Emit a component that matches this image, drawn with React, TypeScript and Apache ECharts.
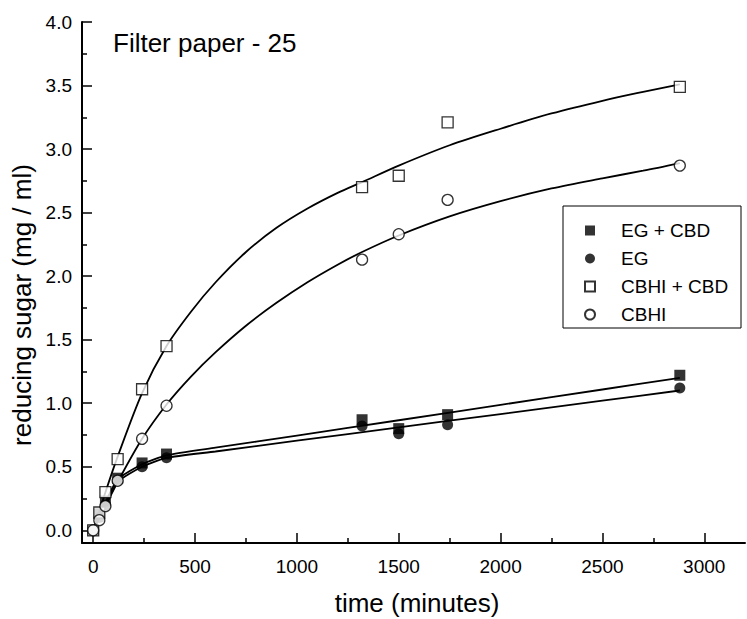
import React, { useEffect, useRef } from "react";
import * as echarts from "echarts";

// measured data points
const times = [0, 30, 60, 120, 240, 360, 1320, 1500, 1740, 2880];
const egCbd = [0, 0.13, 0.23, 0.41, 0.53, 0.6, 0.87, 0.8, 0.91, 1.22];
const eg = [0, 0.1, 0.2, 0.39, 0.5, 0.57, 0.82, 0.76, 0.83, 1.12];
const cbhiCbd = [0, 0.14, 0.3, 0.56, 1.11, 1.45, 2.7, 2.79, 3.21, 3.49];
const cbhi = [0, 0.08, 0.19, 0.39, 0.72, 0.98, 2.13, 2.33, 2.6, 2.87];

// fitted curves
const fitTimesA = [0, 60, 120, 240, 360, 480, 600, 750, 900, 1050, 1200, 1320, 1500, 1750, 2000, 2250, 2500, 2700, 2880];
const fitCbhiCbd = [0, 0.3, 0.58, 1.08, 1.45, 1.72, 1.95, 2.19, 2.38, 2.53, 2.655, 2.74, 2.87, 3.03, 3.16, 3.28, 3.38, 3.45, 3.51];
const fitCbhi = [0, 0.19, 0.38, 0.72, 0.99, 1.21, 1.4, 1.61, 1.79, 1.95, 2.09, 2.19, 2.32, 2.47, 2.59, 2.69, 2.77, 2.83, 2.89];
const fitTimesB = [0, 30, 60, 120, 240, 360, 600, 1000, 1500, 2000, 2500, 2880];
const fitEgCbd = [0, 0.12, 0.22, 0.4, 0.52, 0.59, 0.65, 0.745, 0.866, 0.987, 1.108, 1.2];
const fitEg = [0, 0.1, 0.2, 0.38, 0.5, 0.57, 0.62, 0.705, 0.81, 0.915, 1.02, 1.1];

// ticks
const xTicks = [0, 500, 1000, 1500, 2000, 2500, 3000];
const xMinor = [250, 750, 1250, 1750, 2250, 2750];
const yTicks = [0, 0.5, 1, 1.5, 2, 2.5, 3, 3.5, 4];
const yMinor = [0.25, 0.75, 1.25, 1.75, 2.25, 2.75, 3.25, 3.75];

const seriesNames = ["EG + CBD", "EG", "CBHI + CBD", "CBHI"];

const FONT = "'Liberation Sans', Arial, Helvetica, sans-serif";

const pairs = (xs: number[], ys: number[]) => xs.map((x, i) => [x, ys[i]]);

export default function App() {
  const ref = useRef<HTMLDivElement>(null);
  useEffect(() => {
    if (!ref.current) return;
    const chart = echarts.init(ref.current, undefined, { renderer: "svg" });
    const X_MIN = -55, X_MAX = 3200, Y_MIN = -0.1, Y_MAX = 4.0;
    const tickStyle = { color: "#000", width: 1.5 };
    const fitLine = (data: number[][], smooth: number) => ({
      type: "line",
      data,
      symbol: "none",
      showSymbol: false,
      smooth,
      silent: true,
      lineStyle: { color: "#000", width: 1.8 },
      z: 2,
    });
    chart.setOption({
      animation: false,
      backgroundColor: "#fff",
      grid: { left: 82, right: 2, top: 22, bottom: 76, containLabel: false },
      xAxis: [
        {
          type: "value",
          min: X_MIN,
          max: X_MAX,
          position: "bottom",
          axisLine: { show: true, onZero: false, lineStyle: { color: "#000", width: 2 } },
          axisTick: { show: true, inside: true, length: 10, customValues: xTicks, lineStyle: tickStyle },
          axisLabel: {
            customValues: xTicks,
            color: "#000",
            fontSize: 19,
            margin: 14,
            fontFamily: FONT,
            formatter: (v: number) => String(v),
          },
          splitLine: { show: false },
        },
        {
          type: "value",
          min: X_MIN,
          max: X_MAX,
          position: "bottom",
          axisLine: { show: false, onZero: false },
          axisTick: { show: true, inside: true, length: 5, customValues: xMinor, lineStyle: tickStyle },
          axisLabel: { show: false },
          splitLine: { show: false },
        },
      ],
      yAxis: [
        {
          type: "value",
          min: Y_MIN,
          max: Y_MAX,
          position: "left",
          axisLine: { show: true, onZero: false, lineStyle: { color: "#000", width: 2 } },
          axisTick: { show: true, inside: true, length: 10, customValues: yTicks, lineStyle: tickStyle },
          axisLabel: {
            customValues: yTicks,
            color: "#000",
            fontSize: 19,
            margin: 10,
            fontFamily: FONT,
            formatter: (v: number) => v.toFixed(1),
          },
          splitLine: { show: false },
        },
        {
          type: "value",
          min: Y_MIN,
          max: Y_MAX,
          position: "left",
          axisLine: { show: false, onZero: false },
          axisTick: { show: true, inside: true, length: 5, customValues: yMinor, lineStyle: tickStyle },
          axisLabel: { show: false },
          splitLine: { show: false },
        },
      ],
      legend: {
        orient: "vertical",
        left: 584,
        top: 221,
        padding: 0,
        itemWidth: 10,
        itemHeight: 10,
        itemGap: 9,
        selectedMode: false,
        data: seriesNames,
        textStyle: { fontSize: 19, color: "#000", fontFamily: FONT, padding: [0, 0, 0, 21] },
      },
      graphic: [
        {
          type: "rect",
          shape: { x: 563, y: 206, width: 178, height: 122 },
          style: { fill: "none", stroke: "#000", lineWidth: 1 },
          z: 0,
        },
        {
          type: "text",
          x: 113,
          y: 43,
          style: { text: "Filter paper - 25", fontSize: 26, fill: "#000", fontFamily: FONT, align: "left", verticalAlign: "middle" },
        },
        {
          type: "text",
          x: 417,
          y: 603,
          style: { text: "time (minutes)", fontSize: 26, fill: "#000", fontFamily: FONT, align: "center", verticalAlign: "middle" },
        },
        {
          type: "text",
          x: 22,
          y: 305,
          rotation: Math.PI / 2,
          style: { text: "reducing sugar (mg / ml)", fontSize: 26, fill: "#000", fontFamily: FONT, align: "center", verticalAlign: "middle" },
        },
      ],
      series: [
        fitLine(pairs(fitTimesA, fitCbhiCbd), 0.3),
        fitLine(pairs(fitTimesA, fitCbhi), 0.3),
        fitLine(pairs(fitTimesB, fitEgCbd), 0.2),
        fitLine(pairs(fitTimesB, fitEg), 0.2),
        {
          type: "scatter",
          name: seriesNames[0],
          data: pairs(times, egCbd),
          symbol: "rect",
          symbolSize: 11,
          itemStyle: { color: "#000" },
          z: 3,
        },
        {
          type: "scatter",
          name: seriesNames[1],
          data: pairs(times, eg),
          symbol: "circle",
          symbolSize: 11,
          itemStyle: { color: "#000" },
          z: 3,
        },
        {
          type: "scatter",
          name: seriesNames[2],
          data: pairs(times, cbhiCbd),
          symbol: "rect",
          symbolSize: 11,
          itemStyle: { color: "#fff", borderColor: "#000", borderWidth: 1.3 },
          z: 4,
        },
        {
          type: "scatter",
          name: seriesNames[3],
          data: pairs(times, cbhi),
          symbol: "circle",
          symbolSize: 11,
          itemStyle: { color: "#fff", borderColor: "#000", borderWidth: 1.3 },
          z: 4,
        },
      ],
    });
    return () => chart.dispose();
  }, []);
  return <div ref={ref} style={{ position: "fixed", left: 0, top: 0, width: 747, height: 619 }} />;
}
